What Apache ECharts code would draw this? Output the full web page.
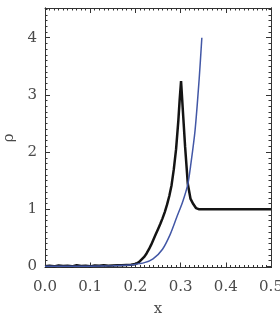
<!DOCTYPE html>
<html>
<head>
<meta charset="utf-8">
<script src="https://cdn.jsdelivr.net/npm/echarts@6/dist/echarts.min.js"></script>
<style>html,body{margin:0;padding:0;background:#fff;}#c{width:280px;height:313px;}</style>
</head>
<body>
<div id="c"></div>
<script>
const xTicks = [0.0, 0.1, 0.2, 0.3, 0.4, 0.5];
const yTicks = [0, 1, 2, 3, 4];
const blackX = [0, 0.01, 0.02, 0.03, 0.04, 0.05, 0.06, 0.07, 0.08, 0.09, 0.10, 0.11, 0.12, 0.13, 0.14, 0.15, 0.16, 0.17, 0.18, 0.19, 0.20, 0.205, 0.21, 0.215, 0.22, 0.225, 0.23, 0.235, 0.24, 0.245, 0.25, 0.255, 0.26, 0.265, 0.27, 0.275, 0.28, 0.285, 0.29, 0.295, 0.298, 0.301, 0.306, 0.31, 0.316, 0.322, 0.328, 0.334, 0.34, 0.5];
const blackY = [0.0, 0.01, 0.0, 0.015, 0.005, 0.01, 0.0, 0.02, 0.005, 0.01, 0.0, 0.015, 0.01, 0.02, 0.01, 0.015, 0.02, 0.02, 0.025, 0.03, 0.04, 0.06, 0.09, 0.13, 0.17, 0.23, 0.3, 0.38, 0.47, 0.56, 0.65, 0.74, 0.84, 0.95, 1.08, 1.23, 1.42, 1.7, 2.05, 2.55, 2.92, 3.24, 2.6, 2.09, 1.44, 1.18, 1.09, 1.02, 1.0, 1.0];
const blueX = [0, 0.05, 0.10, 0.15, 0.18, 0.195, 0.22, 0.239, 0.26, 0.277, 0.291, 0.305, 0.316, 0.322, 0.332, 0.341, 0.347];
const blueY = [0, 0.0, 0.002, 0.01, 0.02, 0.03, 0.065, 0.13, 0.3, 0.56, 0.85, 1.14, 1.44, 1.75, 2.38, 3.27, 4.0];

const yMinor = [];
for (let i = 1; i <= 45; i++) { if (i % 10 !== 0) yMinor.push(+(i / 10).toFixed(1)); }

const font = 'DejaVu Serif';
const lineCol = '#333';
const txtCol = '#4a4a4a';
const yMin = -0.02, yMax = 4.52;

function xAx(pos, labels) {
  return {
    type: 'value', position: pos, min: 0, max: 0.5, interval: 0.1,
    axisLine: { show: true, onZero: false, lineStyle: { color: lineCol, width: 1 } },
    axisTick: { show: true, inside: true, length: 5, lineStyle: { color: lineCol } },
    minorTick: { show: true, splitNumber: 10, length: 2.5, lineStyle: { color: lineCol } },
    splitLine: { show: false },
    axisLabel: labels ? { show: true, formatter: v => v.toFixed(1), fontFamily: font, fontSize: 15, color: txtCol, margin: 12 } : { show: false },
    name: labels ? 'x' : '', nameLocation: 'middle', nameGap: 34,
    nameTextStyle: { fontFamily: font, fontSize: 15, color: txtCol }
  };
}
function yAx(pos, major, labels) {
  return {
    type: 'value', position: pos, min: yMin, max: yMax,
    axisLine: { show: true, onZero: false, lineStyle: { color: lineCol, width: 1 } },
    axisTick: { show: true, inside: true, length: major ? 5 : 2.5, customValues: major ? yTicks : yMinor, lineStyle: { color: lineCol } },
    splitLine: { show: false },
    axisLabel: labels ? { show: true, customValues: yTicks, fontFamily: font, fontSize: 15, color: txtCol, margin: 8 } : { show: false },
    name: labels ? 'ρ' : '', nameLocation: 'middle', nameGap: 26, nameRotate: 90,
    nameTextStyle: { fontFamily: font, fontSize: 15, color: txtCol }
  };
}

const chart = echarts.init(document.getElementById('c'), null, { renderer: 'canvas' });
chart.setOption({
  animation: false,
  backgroundColor: '#fff',
  grid: { left: 45, right: 9, top: 8, bottom: 45.5, containLabel: false, outerBoundsMode: 'none' },
  xAxis: [xAx('bottom', true), xAx('top', false)],
  yAxis: [yAx('left', true, true), yAx('left', false, false), yAx('right', true, false), yAx('right', false, false)],
  series: [
    { type: 'line', data: blackX.map((x, i) => [x, blackY[i]]), showSymbol: false, lineStyle: { color: '#141414', width: 2.5 }, z: 2 },
    { type: 'line', data: blueX.map((x, i) => [x, blueY[i]]), showSymbol: false, smooth: 0.3, lineStyle: { color: '#4257a6', width: 1.5 }, z: 3 }
  ]
});
</script>
</body>
</html>
